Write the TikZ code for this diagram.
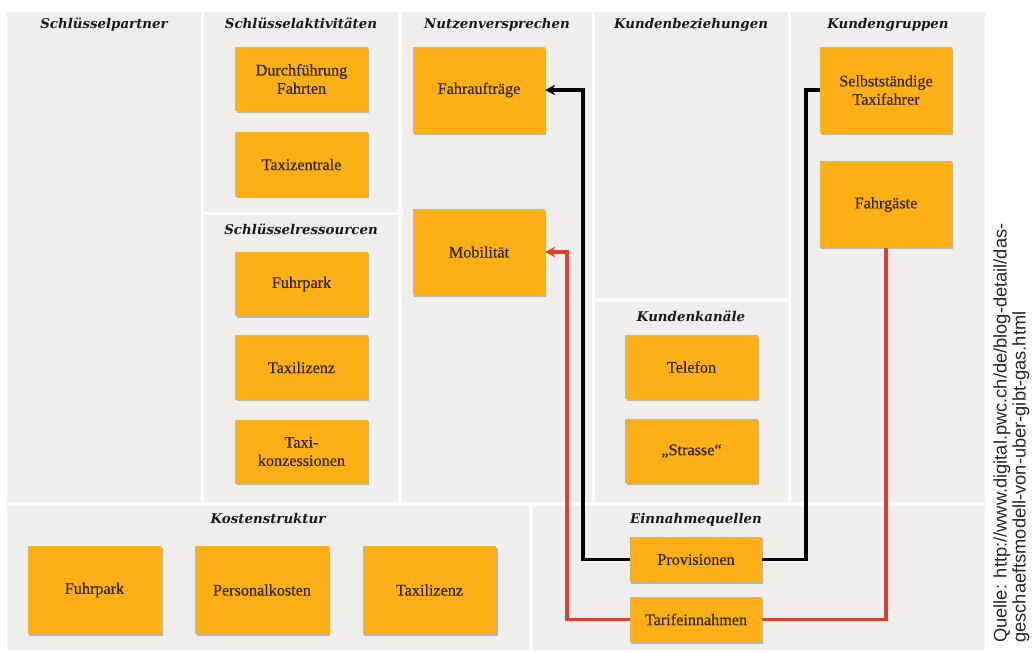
\documentclass[tikz,border=0pt]{standalone}
\usepackage{fontspec}
\setmainfont{DejaVu Serif}
\newfontfamily\cardfont[FakeBold=0.4]{Liberation Serif}
\newfontfamily\quellefont{Liberation Sans}
\usetikzlibrary{arrows.meta, positioning, shadows}

\definecolor{canvasgray}{RGB}{240,238,236}
\definecolor{cardfill}{RGB}{251,176,23}
\definecolor{cardtext}{RGB}{56,36,10}
\definecolor{linkred}{RGB}{219,64,48}

\begin{document}
\begin{tikzpicture}[
    x=0.025cm, y=-0.025cm,
    panel/.style={fill=canvasgray},
    head/.style={anchor=base, text=black!90,
                 font=\fontsize{9.5}{11}\selectfont\bfseries\itshape},
    card/.style={fill=cardfill, text=cardtext, align=center, inner sep=0pt,
                 minimum width=3.3cm, minimum height=1.6cm,
                 font=\cardfont\fontsize{11.5}{13}\selectfont,
                 drop shadow={shadow xshift=1pt, shadow yshift=-1.2pt,
                              opacity=.35, fill=black!70}},
    tall/.style={card, minimum height=2.15cm},
    flat/.style={card, minimum height=1.13cm},
    link/.style={line width=2.6pt},
    >={Stealth[length=7pt, width=7.5pt]}
  ]
  \useasboundingbox (0,0) rectangle (1032,652);

  % Canvas
  \fill[panel] (7,12) rectangle (201,502);
  \fill[panel] (204,12) rectangle (398,212);
  \fill[panel] (204,215) rectangle (398,502);
  \fill[panel] (402,12) rectangle (592,502);
  \fill[panel] (595,12) rectangle (788,298);
  \fill[panel] (595,302) rectangle (788,502);
  \fill[panel] (791,12) rectangle (985,502);
  \fill[panel] (7,506) rectangle (529,650);
  \fill[panel] (533,506) rectangle (985,650);

  % Headings
  \node[head] (partner) at (104,28) {Schlüsselpartner};
  \node[head] (aktiv) at (301,28) {Schlüsselaktivitäten};
  \node[head] (ressourcen) at (301,234) {Schlüsselressourcen};
  \node[head] (nutzen) at (497,28) {Nutzenversprechen};
  \node[head] (beziehung) at (691,28) {Kundenbeziehungen};
  \node[head] (kanal) at (691,321) {Kundenkanäle};
  \node[head] (gruppen) at (888,28) {Kundengruppen};
  \node[head] (kosten) at (268,523) {Kostenstruktur};
  \node[head] (einnahmen) at (696,523) {Einnahmequellen};

  % Schluesselaktivitaeten / -ressourcen
  \node[card] (durch) at (301.5,79) {Durchführung\\Fahrten};
  \node[card] (zentrale) at (301.5,164.5) {Taxizentrale};
  \node[card] (park) at (301.5,284) {Fuhrpark};
  \node[card] (lizenz) at (301.5,367.5) {Taxilizenz};
  \node[card] (konz) at (301.5,451.5) {Taxi-\\konzessionen};

  % Nutzenversprechen
  \node[tall] (fahrt) at (479,90) {Fahraufträge};
  \node[tall] (mobil) at (479,252) {Mobilität};

  % Kundenkanaele
  \node[card] (telefon) at (691.5,367) {Telefon};
  \node[card] (strasse) at (691.5,451) {„Strasse“};

  % Kundengruppen
  \node[tall] (selbst) at (886,90) {Selbstständige\\Taxifahrer};
  \node[tall] (gaeste) at (886,204.5) {Fahrgäste};

  % Kostenstruktur
  \foreach \t [count=\i from 0] in {Fuhrpark,Personalkosten,Taxilizenz} {
    \node[tall, minimum width=3.33cm, minimum height=2.2cm] (k\i)
      at (94.5+\i*167.5,590) {\t};
  }

  % Einnahmequellen
  \node[flat] (prov) at (696,559.5) {Provisionen};
  \node[flat] (tarif) at (696,619.5) {Tarifeinnahmen};

  % Provisionen: Taxifahrer -> Fahrauftraege
  \draw[link, ->] (prov.west) -- ++(-47,0) |- (fahrt.east);
  \draw[link] (prov.east) -- ++(44,0) |- (selbst.west);

  % Tarifeinnahmen: Fahrgaeste -> Mobilitaet
  \draw[link, linkred, ->] (tarif.west) -- ++(-63,0) |- (mobil.east);
  \draw[link, linkred] (tarif.east) -| (gaeste.south);

  % Source
  \node[rotate=90, anchor=north west, align=left, inner sep=0pt,
        font=\quellefont\fontsize{13}{13.5}\selectfont, text=black!85]
    (quelle) at (993,643)
    {Quelle: http://www.digital.pwc.ch/de/blog-detail/das-\\
     geschaeftsmodell-von-uber-gibt-gas.html};
\end{tikzpicture}
\end{document}
